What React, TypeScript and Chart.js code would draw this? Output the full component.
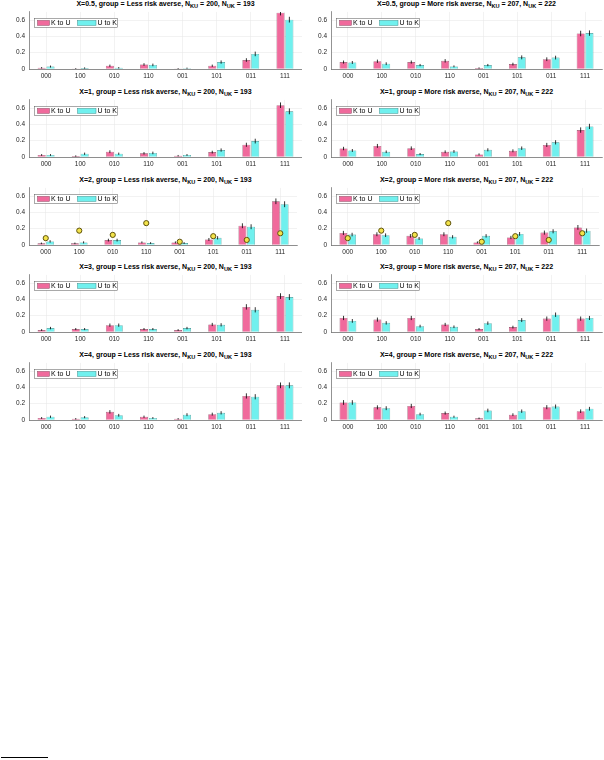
import React, { useEffect, useRef } from "react";
import { Chart, registerables } from "chart.js";

Chart.register(...registerables);

// ---------- data ----------
const CATEGORIES = ["000", "100", "010", "110", "001", "101", "011", "111"];
const Y_TICKS = [0, 0.2, 0.4, 0.6];
const Y_MAX = 0.7;
const SERIES_NAMES = ["K to U", "U to K"];
const X_VALUES = ["0.5", "1", "2", "3", "4"];
const GROUPS = ["Less risk averse", "More risk averse"];
const N_KU = [200, 207];
const N_UK = [193, 222];

// X = 0.5
const KU_X05_LESS = [0.015, 0.005, 0.04, 0.055, 0.005, 0.04, 0.11, 0.69];
const UK_X05_LESS = [0.03, 0.012, 0.015, 0.05, 0.01, 0.085, 0.185, 0.605];
const KU_X05_LESS_ERR = [0.009, 0.005, 0.014, 0.016, 0.005, 0.014, 0.022, 0.033];
const UK_X05_LESS_ERR = [0.012, 0.008, 0.009, 0.016, 0.007, 0.02, 0.028, 0.035];
const KU_X05_MORE = [0.085, 0.095, 0.085, 0.1, 0.012, 0.06, 0.12, 0.435];
const UK_X05_MORE = [0.08, 0.065, 0.048, 0.032, 0.048, 0.143, 0.14, 0.44];
const KU_X05_MORE_ERR = [0.019, 0.02, 0.019, 0.021, 0.008, 0.017, 0.023, 0.034];
const UK_X05_MORE_ERR = [0.018, 0.017, 0.014, 0.012, 0.014, 0.024, 0.023, 0.033];

// X = 1
const KU_X1_LESS = [0.025, 0.012, 0.065, 0.045, 0.016, 0.06, 0.15, 0.635];
const UK_X1_LESS = [0.025, 0.04, 0.04, 0.05, 0.025, 0.085, 0.195, 0.56];
const KU_X1_LESS_ERR = [0.011, 0.008, 0.017, 0.015, 0.009, 0.017, 0.025, 0.034];
const UK_X1_LESS_ERR = [0.011, 0.014, 0.014, 0.016, 0.011, 0.02, 0.029, 0.036];
const KU_X1_MORE = [0.104, 0.136, 0.108, 0.064, 0.032, 0.076, 0.148, 0.33];
const UK_X1_MORE = [0.08, 0.064, 0.036, 0.068, 0.088, 0.108, 0.18, 0.375];
const KU_X1_MORE_ERR = [0.021, 0.024, 0.022, 0.017, 0.012, 0.018, 0.025, 0.033];
const UK_X1_MORE_ERR = [0.018, 0.016, 0.013, 0.017, 0.019, 0.021, 0.026, 0.032];

// X = 2
const KU_X2_LESS = [0.02, 0.02, 0.06, 0.032, 0.032, 0.068, 0.236, 0.536];
const UK_X2_LESS = [0.044, 0.032, 0.06, 0.024, 0.024, 0.088, 0.224, 0.5];
const KU_X2_LESS_ERR = [0.01, 0.01, 0.017, 0.012, 0.012, 0.018, 0.03, 0.035];
const UK_X2_LESS_ERR = [0.015, 0.013, 0.017, 0.011, 0.011, 0.02, 0.03, 0.036];
const KU_X2_MORE = [0.148, 0.132, 0.112, 0.132, 0.032, 0.092, 0.152, 0.216];
const UK_X2_MORE = [0.128, 0.12, 0.08, 0.1, 0.112, 0.136, 0.168, 0.176];
const KU_X2_MORE_ERR = [0.025, 0.024, 0.022, 0.024, 0.012, 0.02, 0.025, 0.029];
const UK_X2_MORE_ERR = [0.022, 0.022, 0.018, 0.02, 0.021, 0.023, 0.025, 0.026];
const PREDICTED_X2 = [0.084, 0.176, 0.124, 0.268, 0.04, 0.108, 0.062, 0.144];

// X = 3
const KU_X3_LESS = [0.024, 0.036, 0.084, 0.036, 0.024, 0.092, 0.308, 0.44];
const UK_X3_LESS = [0.048, 0.036, 0.084, 0.036, 0.048, 0.088, 0.272, 0.428];
const KU_X3_LESS_ERR = [0.011, 0.013, 0.02, 0.013, 0.011, 0.02, 0.033, 0.035];
const UK_X3_LESS_ERR = [0.015, 0.013, 0.02, 0.013, 0.015, 0.02, 0.032, 0.036];
const KU_X3_MORE = [0.172, 0.152, 0.172, 0.092, 0.036, 0.06, 0.164, 0.164];
const UK_X3_MORE = [0.136, 0.112, 0.072, 0.064, 0.108, 0.146, 0.212, 0.172];
const KU_X3_MORE_ERR = [0.026, 0.025, 0.026, 0.02, 0.013, 0.017, 0.026, 0.026];
const UK_X3_MORE_ERR = [0.023, 0.021, 0.017, 0.016, 0.021, 0.024, 0.027, 0.025];

// X = 4
const KU_X4_LESS = [0.025, 0.015, 0.1, 0.04, 0.015, 0.072, 0.295, 0.425];
const UK_X4_LESS = [0.04, 0.035, 0.058, 0.025, 0.065, 0.088, 0.285, 0.425];
const KU_X4_LESS_ERR = [0.011, 0.009, 0.021, 0.014, 0.009, 0.018, 0.032, 0.035];
const UK_X4_LESS_ERR = [0.014, 0.013, 0.017, 0.011, 0.018, 0.02, 0.032, 0.036];
const KU_X4_MORE = [0.215, 0.155, 0.172, 0.085, 0.02, 0.065, 0.157, 0.108];
const UK_X4_MORE = [0.215, 0.145, 0.072, 0.04, 0.117, 0.108, 0.165, 0.138];
const KU_X4_MORE_ERR = [0.029, 0.025, 0.026, 0.019, 0.01, 0.017, 0.025, 0.022];
const UK_X4_MORE_ERR = [0.028, 0.024, 0.017, 0.013, 0.022, 0.021, 0.025, 0.023];

// panel rows: [less, more] per X value
const PANEL_DATA = [
  [
    { ku: KU_X05_LESS, uk: UK_X05_LESS, kuErr: KU_X05_LESS_ERR, ukErr: UK_X05_LESS_ERR, pred: null },
    { ku: KU_X05_MORE, uk: UK_X05_MORE, kuErr: KU_X05_MORE_ERR, ukErr: UK_X05_MORE_ERR, pred: null },
  ],
  [
    { ku: KU_X1_LESS, uk: UK_X1_LESS, kuErr: KU_X1_LESS_ERR, ukErr: UK_X1_LESS_ERR, pred: null },
    { ku: KU_X1_MORE, uk: UK_X1_MORE, kuErr: KU_X1_MORE_ERR, ukErr: UK_X1_MORE_ERR, pred: null },
  ],
  [
    { ku: KU_X2_LESS, uk: UK_X2_LESS, kuErr: KU_X2_LESS_ERR, ukErr: UK_X2_LESS_ERR, pred: PREDICTED_X2 },
    { ku: KU_X2_MORE, uk: UK_X2_MORE, kuErr: KU_X2_MORE_ERR, ukErr: UK_X2_MORE_ERR, pred: PREDICTED_X2 },
  ],
  [
    { ku: KU_X3_LESS, uk: UK_X3_LESS, kuErr: KU_X3_LESS_ERR, ukErr: UK_X3_LESS_ERR, pred: null },
    { ku: KU_X3_MORE, uk: UK_X3_MORE, kuErr: KU_X3_MORE_ERR, ukErr: UK_X3_MORE_ERR, pred: null },
  ],
  [
    { ku: KU_X4_LESS, uk: UK_X4_LESS, kuErr: KU_X4_LESS_ERR, ukErr: UK_X4_LESS_ERR, pred: null },
    { ku: KU_X4_MORE, uk: UK_X4_MORE, kuErr: KU_X4_MORE_ERR, ukErr: UK_X4_MORE_ERR, pred: null },
  ],
];

// ---------- style / layout ----------
const FONT = "'Liberation Sans', Arial, Helvetica, sans-serif";
const PINK = "#F06A9C";
const PINK_EDGE = "#8a4a62";
const CYAN = "#70F0EE";
const CYAN_EDGE = "#3d8f8c";
const YELLOW = "#F3E34A";
const YELLOW_EDGE = "#5e520e";
const GRID = "#e4e4e4";
const AXIS = "#4a4a4a";
const TEXT = "#262626";

const CANVAS_TOPS = [4, 92, 180, 267, 355];
const PAD_TOP = 6.5;
const PLOT_H = 58.5;
const XAXIS_H = 12;
const CANVAS_H = PAD_TOP + PLOT_H + XAXIS_H;
const COL_LEFT = [0, 302];
const COL_W = 302;
const YAXIS_W = 29;
const PAD_RIGHT = [0, 2];

const errorBarPlugin = {
  id: "errorBars",
  afterDatasetDraw(chart: any, args: any) {
    const meta = args.meta;
    if (meta.type !== "bar") return;
    const ds: any = chart.data.datasets[args.index];
    const errs: number[] = ds.errors || [];
    const y = chart.scales.y;
    const ca = chart.chartArea;
    const ctx = chart.ctx;
    ctx.save();
    ctx.beginPath();
    ctx.rect(ca.left, ca.top, ca.right - ca.left, ca.bottom - ca.top);
    ctx.clip();
    ctx.strokeStyle = "#000";
    ctx.lineWidth = 0.8;
    meta.data.forEach((el: any, i: number) => {
      const v = ds.data[i];
      const e = errs[i] || 0;
      ctx.beginPath();
      ctx.moveTo(el.x, y.getPixelForValue(v - e));
      ctx.lineTo(el.x, y.getPixelForValue(v + e));
      ctx.stroke();
    });
    ctx.restore();
  },
};

const insideLegendPlugin = {
  id: "insideLegend",
  afterDraw(chart: any) {
    const { ctx, chartArea } = chart;
    const x0 = chartArea.left + 5.5;
    const y0 = chartArea.top + 6.5;
    const w = 83;
    const h = 9;
    const ds = chart.data.datasets;
    ctx.save();
    ctx.fillStyle = "#fff";
    ctx.fillRect(x0, y0, w, h);
    ctx.strokeStyle = "#555";
    ctx.lineWidth = 0.5;
    ctx.strokeRect(x0, y0, w, h);
    const items = [
      { sx: 3, sw: 12, tx: 16.5 },
      { sx: 43, sw: 18.5, tx: 63 },
    ];
    ctx.font = `7px ${FONT}`;
    ctx.textBaseline = "middle";
    items.forEach((it, i) => {
      const d = ds[i];
      ctx.fillStyle = d.backgroundColor;
      ctx.fillRect(x0 + it.sx, y0 + 2, it.sw, 5);
      ctx.strokeStyle = d.borderColor;
      ctx.lineWidth = 0.5;
      ctx.strokeRect(x0 + it.sx, y0 + 2, it.sw, 5);
      ctx.fillStyle = "#000";
      ctx.fillText(d.label, x0 + it.tx, y0 + h / 2 + 0.4);
    });
    ctx.restore();
  },
};

function Panel({ row, col }: { row: number; col: number }) {
  const ref = useRef<HTMLCanvasElement | null>(null);
  const pd = PANEL_DATA[row][col];
  useEffect(() => {
    if (!ref.current) return;
    const datasets: any[] = [
      {
        type: "bar",
        label: SERIES_NAMES[0],
        data: pd.ku,
        errors: pd.kuErr,
        backgroundColor: PINK,
        borderColor: PINK_EDGE,
        borderWidth: 0.6,
        categoryPercentage: 0.52,
        barPercentage: 0.9,
        order: 1,
      },
      {
        type: "bar",
        label: SERIES_NAMES[1],
        data: pd.uk,
        errors: pd.ukErr,
        backgroundColor: CYAN,
        borderColor: CYAN_EDGE,
        borderWidth: 0.6,
        categoryPercentage: 0.52,
        barPercentage: 0.9,
        order: 1,
      },
    ];
    if (pd.pred) {
      datasets.push({
        type: "line",
        label: "Prediction",
        data: pd.pred,
        showLine: false,
        pointRadius: 2.6,
        pointBackgroundColor: YELLOW,
        pointBorderColor: YELLOW_EDGE,
        pointBorderWidth: 1,
        order: 0,
      });
    }
    const tickFont = { family: FONT, size: 6.5 };
    const chart = new Chart(ref.current, {
      type: "bar",
      data: { labels: CATEGORIES, datasets },
      options: {
        animation: false,
        responsive: false,
        events: [],
        layout: { padding: { top: PAD_TOP, right: PAD_RIGHT[col], left: 0, bottom: 0 } },
        plugins: {
          legend: { display: false },
          title: { display: false },
          tooltip: { enabled: false },
        },
        scales: {
          x: {
            offset: true,
            grid: { offset: false, color: GRID, lineWidth: 0.5, drawTicks: false },
            border: { color: AXIS, width: 0.6 },
            ticks: { font: tickFont, color: TEXT, padding: 3, maxRotation: 0, autoSkip: false },
            afterFit: (s: any) => {
              s.height = XAXIS_H;
            },
          },
          y: {
            min: 0,
            max: Y_MAX,
            afterBuildTicks: (s: any) => {
              s.ticks = Y_TICKS.map((v) => ({ value: v }));
            },
            grid: { color: GRID, lineWidth: 0.5, drawTicks: false },
            border: { color: AXIS, width: 0.6 },
            ticks: {
              font: tickFont,
              color: TEXT,
              padding: 4,
              callback: (v: any) => String(Number(Number(v).toFixed(1))),
            },
            afterFit: (s: any) => {
              s.width = YAXIS_W;
            },
          },
        },
      } as any,
      plugins: [errorBarPlugin, insideLegendPlugin],
    });
    return () => chart.destroy();
  }, [row, col]);

  const top = CANVAS_TOPS[row];
  const left = COL_LEFT[col];
  const plotLeft = left + YAXIS_W;
  const plotW = COL_W - YAXIS_W - PAD_RIGHT[col];
  const sub: React.CSSProperties = { fontSize: "0.8em", verticalAlign: "-0.3em", lineHeight: 0 };
  return (
    <>
      <div
        style={{
          position: "absolute",
          left: plotLeft,
          width: plotW,
          top: top + PAD_TOP - 10.5,
          textAlign: "center",
          fontFamily: FONT,
          fontWeight: "bold",
          fontSize: 7,
          lineHeight: "8px",
          whiteSpace: "nowrap",
          color: "#000",
        }}
      >
        X={X_VALUES[row]}, group = {GROUPS[col]}, N<sub style={sub}>KU</sub> = {N_KU[col]}, N
        <sub style={sub}>UK</sub> = {N_UK[col]}
      </div>
      <canvas
        ref={ref}
        width={COL_W}
        height={CANVAS_H}
        style={{ position: "absolute", left, top, width: COL_W, height: CANVAS_H }}
      />
    </>
  );
}

export default function App() {
  return (
    <div style={{ position: "absolute", left: 0, top: 0, width: 604, height: 760, background: "#fff", overflow: "hidden" }}>
      {X_VALUES.map((_, r) =>
        GROUPS.map((__, c) => <Panel key={`${r}-${c}`} row={r} col={c} />)
      )}
      <div style={{ position: "absolute", left: 1, top: 757, width: 47, height: 1, background: "#000" }} />
    </div>
  );
}
